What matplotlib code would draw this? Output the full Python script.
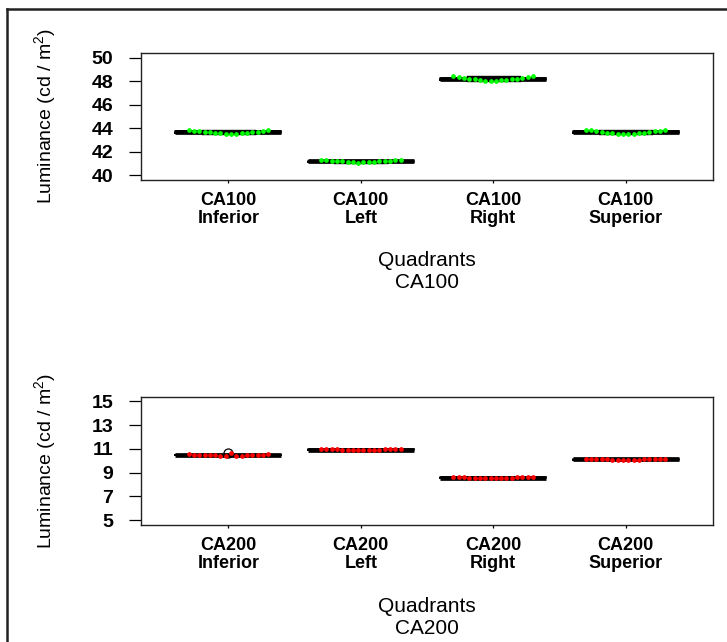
import numpy as np
import matplotlib
matplotlib.use("Agg")
import matplotlib.pyplot as plt
from matplotlib.lines import Line2D

plt.rcParams["font.family"] = ["Liberation Sans", "DejaVu Sans"]
plt.rcParams["mathtext.fontset"] = "custom"
plt.rcParams["mathtext.rm"] = "Liberation Sans"
plt.rcParams["mathtext.it"] = "Liberation Sans"

quadrants = ["Inferior", "Left", "Right", "Superior"]

# CA100 luminance readings (cd/m2), one list per quadrant
ca100_inferior = [43.84, 43.80, 43.74, 43.68, 43.64, 43.62, 43.58, 43.52,
                  43.48, 43.55, 43.58, 43.62, 43.66, 43.72, 43.78, 43.84]
ca100_left = [41.32, 41.28, 41.22, 41.20, 41.18, 41.14, 41.10, 41.08,
              41.10, 41.14, 41.16, 41.20, 41.22, 41.24, 41.30, 41.34]
ca100_right = [48.42, 48.34, 48.26, 48.22, 48.18, 48.12, 48.06, 48.02,
               48.02, 48.08, 48.12, 48.16, 48.22, 48.30, 48.36, 48.42]
ca100_superior = [43.86, 43.84, 43.76, 43.68, 43.62, 43.58, 43.52, 43.48,
                  43.48, 43.54, 43.58, 43.62, 43.68, 43.74, 43.80, 43.86]

# CA200 luminance readings (cd/m2)
ca200_inferior = [10.54, 10.52, 10.50, 10.49, 10.47, 10.46, 10.45, 10.44,
                  10.69, 10.44, 10.45, 10.47, 10.48, 10.50, 10.52, 10.54]
ca200_left = [11.02, 11.00, 10.98, 10.96, 10.94, 10.92, 10.90, 10.88,
              10.88, 10.90, 10.92, 10.94, 10.96, 10.98, 11.00, 11.02]
ca200_right = [8.64, 8.62, 8.60, 8.59, 8.58, 8.57, 8.57, 8.56,
               8.56, 8.57, 8.58, 8.59, 8.60, 8.62, 8.64, 8.66]
ca200_superior = [10.18, 10.16, 10.14, 10.13, 10.12, 10.11, 10.10, 10.09,
                  10.09, 10.10, 10.11, 10.12, 10.13, 10.15, 10.17, 10.19]

ca100_ticks = [40, 42, 44, 46, 48, 50]
ca200_ticks = [5, 7, 9, 11, 13, 15]

W, H = 727, 642
fig = plt.figure(figsize=(W / 100, H / 100), dpi=100)

# outer frame (top and left edges visible)
fig.add_artist(Line2D([7 / W, 7 / W], [0, 1 - 9 / H], transform=fig.transFigure,
                      color="#222222", lw=1.8))
fig.add_artist(Line2D([7 / W, 1], [1 - 9 / H, 1 - 9 / H], transform=fig.transFigure,
                      color="#222222", lw=1.8))


def panel(rect, groups, name, ticks, color):
    ax = fig.add_axes(rect)
    pos = np.arange(1, len(groups) + 1)
    ax.boxplot(groups, positions=pos, widths=0.8,
               boxprops=dict(color="black", lw=1.2),
               medianprops=dict(color="black", lw=3.4, solid_capstyle="butt"),
               whiskerprops=dict(color="black", lw=1.0, ls="--"),
               capprops=dict(color="black", lw=1.0),
               flierprops=dict(marker="o", markerfacecolor="none",
                               markeredgecolor="black", markersize=6.5, mew=0.9))
    offs = np.linspace(-0.3, 0.3, len(groups[0]))
    for p, vals in zip(pos, groups):
        ax.plot(p + offs, vals, "o", color=color, ms=3.4, mew=0, zorder=5)

    ax.set_xlim(0.34, 4.66)
    ext = (ticks[-1] - ticks[0]) * 0.04
    ax.set_ylim(ticks[0] - ext, ticks[-1] + ext)
    ax.set_yticks(ticks)
    ax.set_yticklabels([str(t) for t in ticks], fontweight="bold", fontsize=14)
    ax.set_xticks(pos)
    ax.set_xticklabels([f"{name}\n{q}" for q in quadrants], fontweight="bold",
                       fontsize=13, linespacing=1.1)
    ax.tick_params(axis="y", length=9, width=0.9, pad=11)
    ax.tick_params(axis="x", length=2.5, width=0.9, pad=6)
    for s in ax.spines.values():
        s.set_linewidth(1.0)
        s.set_color("#222222")
    ax.set_xlabel(f"Quadrants\n{name}", fontsize=15, linespacing=1.2)
    ax.xaxis.set_label_coords(0.5, -0.56)
    ax.set_ylabel("Luminance (cd / m$^{2}$)", fontsize=14)
    ax.yaxis.set_label_coords(-0.145, 0.5)
    return ax


ax1 = panel([141 / W, 1 - 180 / H, 572 / W, 127 / H],
            [ca100_inferior, ca100_left, ca100_right, ca100_superior],
            "CA100", ca100_ticks, "#00ff00")
ax2 = panel([141 / W, 1 - 525 / H, 572 / W, 128.3 / H],
            [ca200_inferior, ca200_left, ca200_right, ca200_superior],
            "CA200", ca200_ticks, "#ff0000")

fig.savefig("out.png", dpi=100)
